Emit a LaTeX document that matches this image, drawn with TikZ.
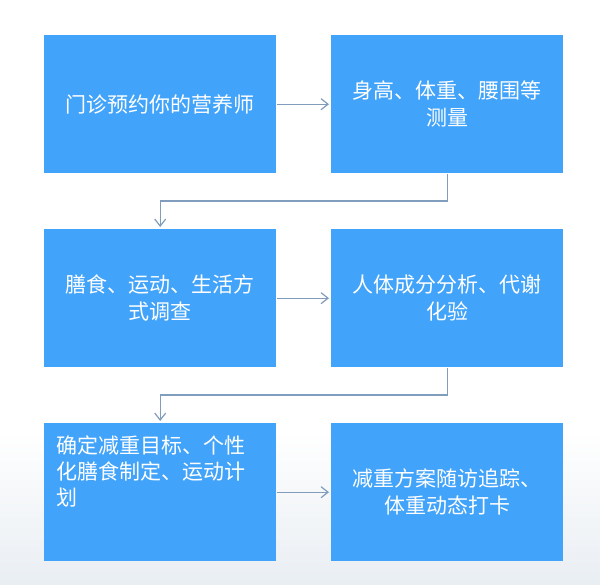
\documentclass[tikz,border=0pt]{standalone}
\usepackage{fontspec}
\newfontfamily\cjk{Noto Sans CJK SC}
\usetikzlibrary{arrows.meta}
\definecolor{boxblue}{RGB}{66,163,250}
\definecolor{linec}{RGB}{128,157,190}
\definecolor{bgbot}{RGB}{233,238,243}
\begin{document}
\begin{tikzpicture}[x=1pt,y=-1pt,
 stepbox/.style={fill=boxblue, draw=none, minimum width=232pt, minimum height=138pt,
   inner sep=0pt, text=white, font=\cjk\fontsize{21}{27}\selectfont, align=center, anchor=north west},
 boxtext/.style={text=white, font=\cjk\fontsize{21}{26}\selectfont, align=left, anchor=north west, inner sep=0pt},
 flow/.style={draw=linec, line width=1.2pt, shorten >=2pt, shorten <=1pt,
   -{Straight Barb[length=7pt,width=11pt,line width=1.2pt]}}]
\fill[white] (0,0) rectangle (600,584);
\shade[top color=white, bottom color=bgbot] (0,430) rectangle (600,584);
\useasboundingbox (0,0) rectangle (600,584);
\node[stepbox] (b1) at (44,35) {门诊预约你的营养师};
\node[stepbox] (b2) at (331,35) {身高、体重、腰围等\\测量};
\node[stepbox] (b3) at (44,229) {膳食、运动、生活方\\式调查};
\node[stepbox] (b4) at (331,229) {人体成分分析、代谢\\化验};
\node[stepbox] (b5) at (44,423) {};
\node[stepbox] (b6) at (331,423) {减重方案随访追踪、\\体重动态打卡};
\node[boxtext] (t5) at (56,436) {确定减重目标、个性\\化膳食制定、运动计\\划};
\coordinate (m1) at (0,201);
\coordinate (m2) at (0,395);
\draw[flow] (b1.east) -- (b2.west);
\draw[flow] (b3.east) -- (b4.west);
\draw[flow] (b5.east) -- (b6.west);
\draw[flow] (b2.south) -- (b2.south |- m1) -- (b3.north |- m1) -- (b3.north);
\draw[flow] (b4.south) -- (b4.south |- m2) -- (b5.north |- m2) -- (b5.north);
\end{tikzpicture}
\end{document}
